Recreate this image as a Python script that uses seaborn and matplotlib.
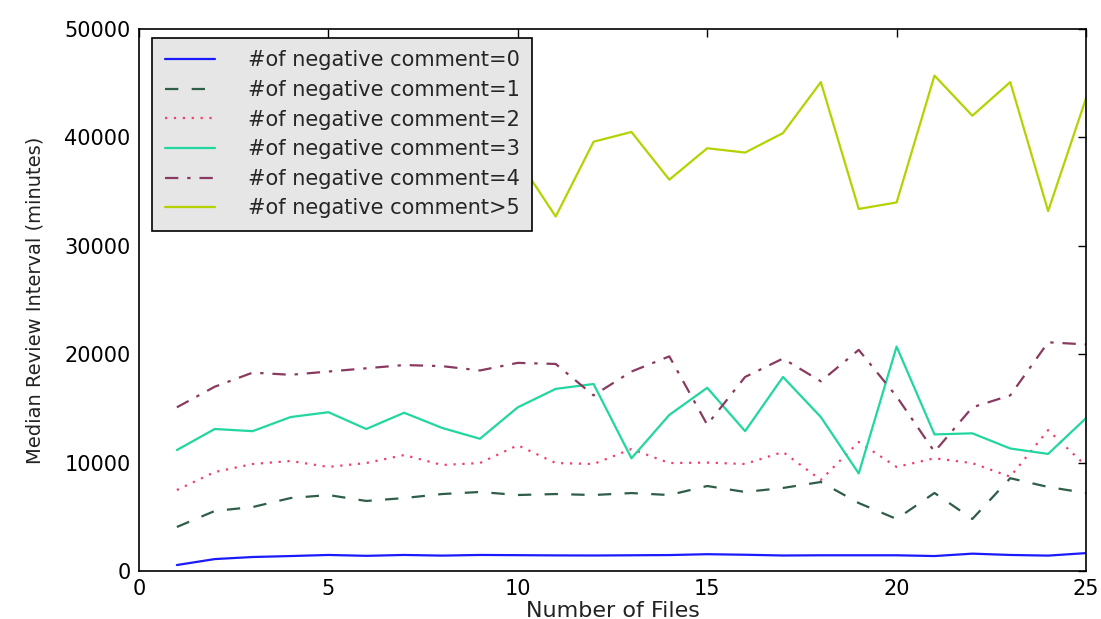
import numpy as np
import pandas as pd
import matplotlib
matplotlib.use("Agg")
import matplotlib.pyplot as plt
from matplotlib import font_manager
import seaborn as sns

files = list(range(1, 26))
neg0 = [550, 1100, 1290, 1380, 1480, 1400, 1480, 1420, 1480, 1460, 1440, 1430, 1450, 1470, 1550, 1500, 1430, 1450, 1450, 1450, 1380, 1600, 1480, 1420, 1650]
neg1 = [4060, 5540, 5900, 6730, 7010, 6460, 6730, 7100, 7290, 7010, 7100, 7010, 7190, 7010, 7840, 7290, 7660, 8210, 6270, 4800, 7200, 4800, 8560, 7750, 7200]
neg2 = [7470, 9130, 9870, 10150, 9600, 9960, 10700, 9780, 9960, 11600, 9960, 9870, 11250, 9960, 10000, 9870, 10980, 8400, 11900, 9600, 10400, 9950, 8700, 13000, 9700]
neg3 = [11160, 13100, 12900, 14200, 14650, 13100, 14600, 13200, 12200, 15100, 16800, 17250, 10400, 14400, 16900, 12900, 17900, 14200, 9000, 20700, 12600, 12700, 11300, 10800, 14100]
neg4 = [15100, 17000, 18300, 18100, 18400, 18700, 19000, 18900, 18500, 19200, 19100, 16200, 18400, 19800, 13500, 17900, 19600, 17500, 20400, 16100, 11000, 15100, 16200, 21100, 20900]
neg5 = [41000, 43000, 39000, 42500, 40000, 44000, 41500, 38500, 40500, 38000, 32700, 39600, 40500, 36100, 39000, 38600, 40400, 45100, 33400, 34000, 45700, 42000, 45100, 33200, 43600]

labels = ["#of negative comment=0", "#of negative comment=1", "#of negative comment=2",
          "#of negative comment=3", "#of negative comment=4", "#of negative comment>5"]
series = [neg0, neg1, neg2, neg3, neg4, neg5]
colors = ["#1a1aff", "#2f5e48", "#f0406a", "#22d6a0", "#8a3a60", "#b5d200"]
styles = ["-", (0, (6, 6)), (0, (1, 3)), "-", (0, (6, 4, 1.5, 4)), "-"]

sns.set_theme(style="white")
plt.rcParams['font.family'] = ['DejaVu Sans']

fig = plt.figure(figsize=(11.01, 6.19), dpi=100)
ax = fig.add_axes([139/1101, 1 - 571/619, (1086 - 139)/1101, (571 - 29)/619])

for vals, lab, c, ls in zip(series, labels, colors, styles):
    sns.lineplot(x=files, y=vals, ax=ax, color=c, linestyle=ls, linewidth=1.6, label=lab)

ax.set_xlim(0, 25)
ax.set_ylim(0, 50000)
ax.set_xticks([0, 5, 10, 15, 20, 25])
ax.set_yticks([0, 10000, 20000, 30000, 40000, 50000])
ax.tick_params(direction="in", length=6, width=1, top=True, right=True,
               labelsize=15, colors="black", pad=6)
for s in ax.spines.values():
    s.set_color("black")
    s.set_linewidth(1.2)

ax.set_xlabel("Number of Files", fontsize=16, labelpad=1, color="#222222")

names = {f.name for f in font_manager.fontManager.ttflist}
if "Liberation Sans Narrow" in names:
    ax.set_ylabel("Median Review Interval (minutes)", family=["Liberation Sans Narrow", "DejaVu Sans"], fontsize=19, labelpad=14)
else:
    ax.set_ylabel("Median Review Interval (minutes)", fontsize=14, labelpad=14, color="#222222")

leg = ax.legend(loc="upper left", fontsize=15, frameon=True, fancybox=False,
                facecolor="#e6e6e6", edgecolor="black", framealpha=1,
                handlelength=2.4, handletextpad=1.6, labelspacing=0.46,
                borderpad=0.6, borderaxespad=0,
                bbox_to_anchor=((152 - 139) / 947, (571 - 38) / 542))
leg.get_frame().set_linewidth(1.2)
leg.set_zorder(5)

fig.savefig("out.png", dpi=100, facecolor="white")
